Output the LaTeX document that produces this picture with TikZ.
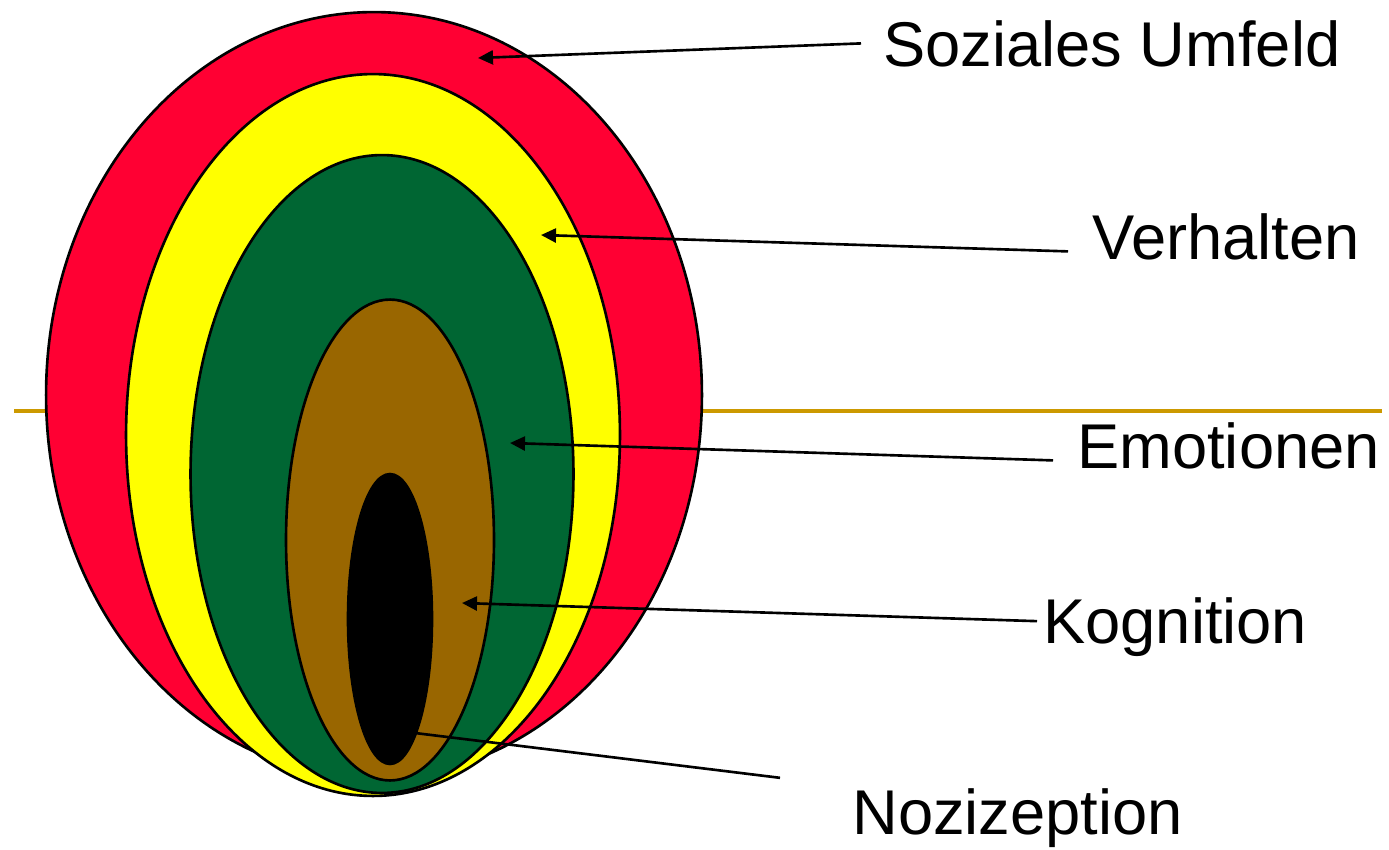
\documentclass[tikz,border=0pt]{standalone}
\usepackage{fontspec}
\setmainfont{Liberation Sans}
\usetikzlibrary{arrows.meta}

\definecolor{rot}{HTML}{FF0033}
\definecolor{gelb}{HTML}{FFFF00}
\definecolor{gruen}{HTML}{006633}
\definecolor{braun}{HTML}{996600}
\definecolor{gold}{HTML}{CC9900}

\begin{document}
\begin{tikzpicture}[
    x=0.02cm, y=-0.02cm,
    ring/.style={draw=black, line width=1.5pt},
    pfeil/.style={line width=1.5pt, -{Triangle[length=0.3cm, width=0.28cm]}},
    strich/.style={line width=1.5pt},
    label/.style={inner sep=0pt, anchor=base west, font=\fontsize{36}{43}\selectfont}
]
    \useasboundingbox (0,0) rectangle (1389,849);

    \draw[gold, line width=2.8pt] (14,411) -- (1382,411);

    \draw[ring, fill=rot]   (374,395) ellipse [x radius=6.56cm, y radius=7.66cm];
    \draw[ring, fill=gelb]  (373,435) ellipse [x radius=4.94cm, y radius=7.22cm];
    \draw[ring, fill=gruen] (382,474) ellipse [x radius=3.83cm, y radius=6.38cm];
    \draw[ring, fill=braun] (390,540) ellipse [x radius=2.08cm, y radius=4.81cm];
    \draw[ring, fill=black] (390,619) ellipse [x radius=0.84cm, y radius=2.90cm];

    \node[label] (umfeld) at (883,66) {Soziales Umfeld};
    \node[label] (verhalten) at (1092,259) {Verhalten};
    \node[label] (emotion) at (1077,468) {Emotionen};
    \node[label] (kognition) at (1043,643) {Kognition};
    \node[label] (nozi) at (852,834) {Nozizeption};

    \coordinate (umfeld-tip) at (478,58);
    \coordinate (verhalten-tip) at (541,235);
    \coordinate (emotion-tip) at (510,443);
    \coordinate (kognition-tip) at (462,603);
    \coordinate (nozi-end) at (415,733);

    \draw[pfeil] ([xshift=-0.44cm]umfeld.west) -- (umfeld-tip);
    \draw[pfeil] ([xshift=-0.48cm, yshift=-0.3cm]verhalten.west) -- (verhalten-tip);
    \draw[pfeil] ([xshift=-0.48cm, yshift=-0.3cm]emotion.west) -- (emotion-tip);
    \draw[pfeil] ([xshift=-0.12cm, yshift=0.11cm]kognition.west) -- (kognition-tip);
    \draw[strich] ([xshift=-1.44cm, yshift=0.2cm]nozi.north west) -- (nozi-end);
\end{tikzpicture}
\end{document}
